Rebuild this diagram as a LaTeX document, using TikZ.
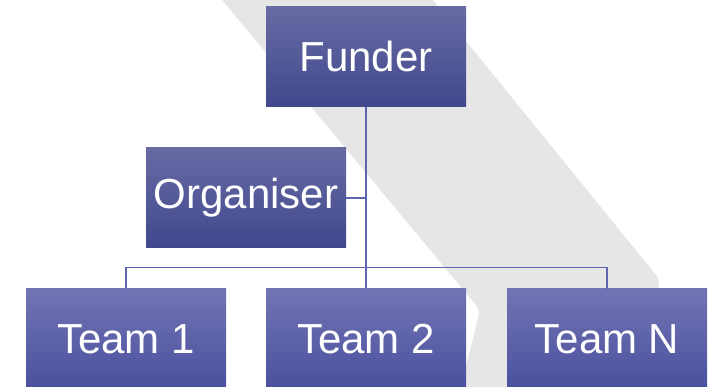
\documentclass[tikz,border=0pt]{standalone}
\usepackage{fontspec}
\setmainfont{Liberation Sans}
\definecolor{bandgrey}{RGB}{230,230,230}
\definecolor{linecol}{RGB}{94,99,178}
\definecolor{topA}{RGB}{104,106,164}
\definecolor{botA}{RGB}{64,72,140}
\definecolor{topB}{RGB}{113,116,179}
\definecolor{botB}{RGB}{74,80,158}
\tikzset{
  box/.style={rectangle, inner sep=0pt, minimum width=200pt, minimum height=100pt,
    text=white, font=\fontsize{42}{50}\selectfont, top color=topA, bottom color=botA},
  teambox/.style={box, top color=topB, bottom color=botB},
  conn/.style={draw=linecol, line width=1.2pt}
}
\begin{document}
\begin{tikzpicture}[x=1pt,y=-1pt]
\useasboundingbox (0,0) rectangle (718,387);
\begin{scope}
\clip (0,0) rectangle (718,387);
\fill[bandgrey, rounded corners=6pt] (205.5,-20) -- (480,310) -- (455,410) -- (630,410) -- (660,280) -- (416.5,-20) -- cycle;
\end{scope}
\node[box] (funder) at (366,56.5) {Funder};
\node[box] (organiser) at (246,198) {Organiser};
\node[teambox] (team1) at (126,339) {Team 1};
\node[teambox] (team2) at (366,339) {Team 2};
\node[teambox] (teamN) at (607,339) {Team N};
\draw[conn] (funder.south) -- (team2.north);
\draw[conn] (team1.north) -- ++(0,-21) -| (teamN.north);
\draw[conn] (organiser.east) -- (organiser.east -| funder.south);
\end{tikzpicture}
\end{document}
